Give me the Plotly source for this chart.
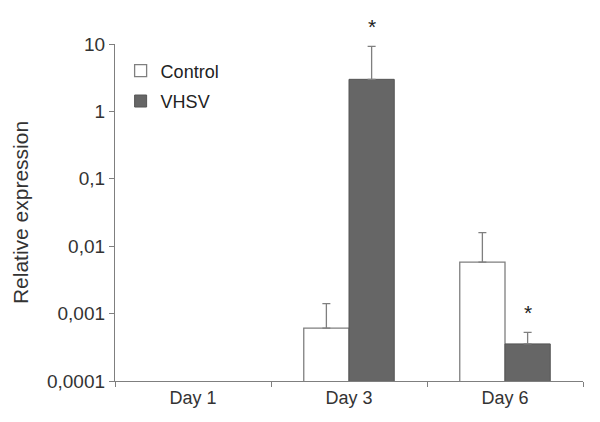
import math
import plotly.graph_objects as go

categories = ["Day 1", "Day 3", "Day 6"]
control_values = [None, 0.00061, 0.0058]
control_err = [None, 0.0008, 0.0101]
vhsv_values = [None, 2.99, 0.000355]
vhsv_err = [None, 6.2, 0.00017]
significant_vhsv = [False, True, True]

tick_vals = [0.0001, 0.001, 0.01, 0.1, 1, 10]
tick_text = ["0,0001", "0,001", "0,01", "0,1", "1", "10"]

edge = "#7f7f7f"
fig = go.Figure()
fig.add_trace(go.Bar(
    name="Control", x=categories, y=control_values, legendgroup="c",
    marker=dict(color="white", line=dict(color=edge, width=1.3)),
    error_y=dict(type="data", symmetric=False, array=control_err, arrayminus=[0, 0, 0],
                 color=edge, thickness=1.3, width=4),
))
fig.add_trace(go.Bar(
    name="VHSV", x=categories, y=vhsv_values, legendgroup="v",
    marker=dict(color="#666666", line=dict(color="#555555", width=1)),
    error_y=dict(type="data", symmetric=False, array=vhsv_err, arrayminus=[0, 0, 0],
                 color=edge, thickness=1.3, width=4),
))

for cat, v, e, sig in zip(categories, vhsv_values, vhsv_err, significant_vhsv):
    if sig:
        fig.add_annotation(
            x=cat, y=math.log10(v + e), xref="x", yref="y",
            text="*", showarrow=False, xshift=22.5, yshift=6,
            yanchor="bottom", font=dict(size=21, color="#222"),
        )

# page body has an 8px default margin, so the figure is 8px smaller than the window
fig.update_layout(
    width=592, height=414,
    margin=dict(l=103, r=17, t=36, b=41),
    paper_bgcolor="white", plot_bgcolor="white",
    font=dict(family="Liberation Sans, Arial, sans-serif", size=17, color="#333"),
    barmode="group", bargap=0.42, bargroupgap=0,
    showlegend=True,
    legend=dict(x=0.012, y=0.975, xanchor="left", yanchor="top",
                bgcolor="rgba(0,0,0,0)", font=dict(size=18, color="#222"),
                tracegroupgap=4, itemwidth=30),
    xaxis=dict(showline=True, linecolor=edge, linewidth=1.3, ticks="outside",
               tickson="boundaries", ticklen=5, tickcolor=edge, showgrid=False,
               tickfont=dict(size=18, color="#333"), range=[-0.5, 2.5]),
    yaxis=dict(type="log", range=[-4, 1], showline=True, linecolor=edge, linewidth=1.3,
               ticks="outside", ticklen=5, tickcolor=edge, showgrid=False,
               tickvals=tick_vals, ticktext=tick_text,
               tickfont=dict(size=19, color="#333"),
               title=dict(text="Relative expression", font=dict(size=21, color="#333"), standoff=12)),
)

fig.write_html("out.html")
